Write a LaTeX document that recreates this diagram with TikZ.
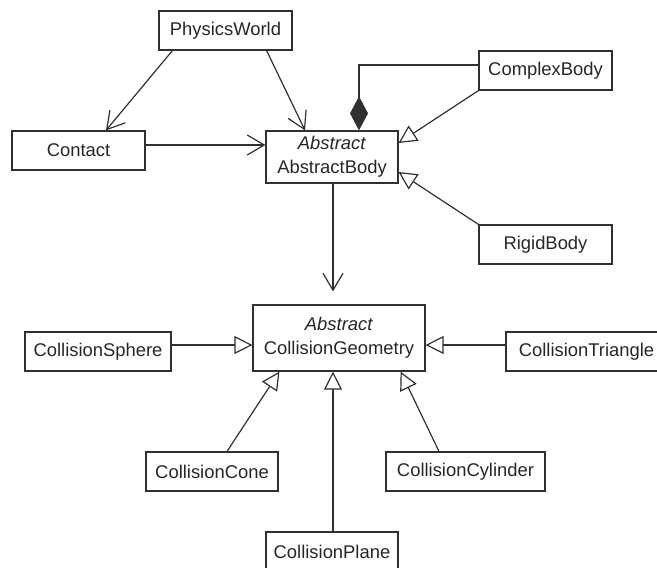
\documentclass[tikz,border=0pt]{standalone}
\usepackage{fontspec}
\setmainfont{Liberation Sans}
\usetikzlibrary{arrows.meta, calc}
\definecolor{edge}{HTML}{303030}
\tikzset{
  cls/.style={draw=edge, line width=0.6pt, rectangle, align=center, inner sep=0pt,
    minimum height=19.5pt, font=\fontsize{9.2}{12}\selectfont, text=black!85},
  a/.style={-{Straight Barb[length=8.5pt, width=10pt, line width=0.6pt]}, draw=edge, line width=0.6pt},
  gen/.style={-{Triangle[open, length=9pt, width=9pt, line width=0.6pt]}, draw=edge, line width=0.6pt},
  comp/.style={-{Diamond[length=17pt, width=9pt]}, draw=edge, line width=0.6pt},
}
\begin{document}
\begin{tikzpicture}[x=0.5pt, y=-0.5pt]
\useasboundingbox (0,0) rectangle (657,567);

% ---- body side ----
\node[cls, minimum width=66.5pt] (world)   at (225.5, 30.5)  {PhysicsWorld};
\node[cls, minimum width=66.5pt] (contact) at (78.5, 150.5)  {Contact};
\node[cls, minimum width=66pt, minimum height=26pt] (body) at (332, 157) {\textit{Abstract}\\AbstractBody};
\node[cls, minimum width=66.5pt] (complex) at (545.5, 70.5)  {ComplexBody};
\node[cls, minimum width=66.5pt] (rigid)   at (545.5, 244.5) {RigidBody};

% ---- geometry side ----
\node[cls, minimum width=86pt, minimum height=33pt] (geom) at (339, 338) {\textit{Abstract}\\CollisionGeometry};
\node[cls, minimum width=73pt]   (sphere)   at (98, 351.5)    {CollisionSphere};
\node[cls, minimum width=80.5pt] (triangle) at (586.5, 351.5) {CollisionTriangle};
\node[cls, minimum width=66pt]   (cone)     at (212, 471.5)   {CollisionCone};
\node[cls, minimum width=79.5pt] (cylinder) at (465.5, 471.5) {CollisionCylinder};
\node[cls, minimum width=66pt]   (plane)    at (332, 551.5)   {CollisionPlane};

% ---- associations ----
\draw[a] ([xshift=7pt]world.south west) -- ([xshift=13.75pt]contact.north);
\draw[a] ([xshift=-13pt]world.south east) -- ([xshift=-13.5pt]body.north);
\draw[a] ([yshift=2.75pt]contact.east) -- ([yshift=2.75pt]contact.east -| body.west);
\draw[a, shorten >=6.5pt] ([xshift=0.5pt]body.south) -- ([xshift=0.5pt]body.south |- geom.north);
\draw[comp] ([yshift=2.75pt]complex.west) -| ([xshift=13.5pt]body.north);

% ---- generalisations ----
\draw[gen] (complex.south west) -- ([yshift=7pt]body.east);
\draw[gen] (rigid.north west) -- ([yshift=-7.5pt]body.east);
\draw[gen] ([yshift=3.25pt]sphere.east) -- ([yshift=3.25pt]sphere.east -| geom.west);
\draw[gen] ([yshift=3.25pt]triangle.west) -- ([yshift=3.25pt]triangle.west -| geom.east);
\draw[gen] ([xshift=7.5pt]cone.north) -- ([xshift=13.5pt]geom.south west);
\draw[gen] ([xshift=-13.25pt]cylinder.north) -- ([xshift=-12.5pt]geom.south east);
\draw[gen] ([xshift=0.5pt]plane.north) -- ([xshift=0.5pt]plane.north |- geom.south);
\end{tikzpicture}
\end{document}
